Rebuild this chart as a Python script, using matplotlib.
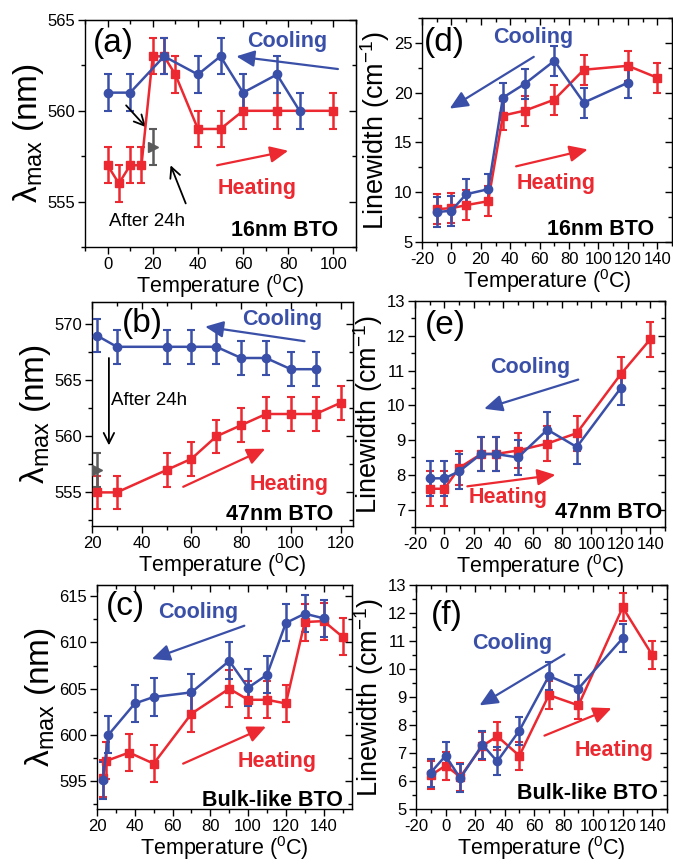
import matplotlib.pyplot as plt
from matplotlib.ticker import MultipleLocator

plt.rcParams['font.family'] = ['Liberation Sans', 'DejaVu Sans']
plt.rcParams['mathtext.fontset'] = 'custom'
plt.rcParams['mathtext.rm'] = 'Liberation Sans'
plt.rcParams['mathtext.it'] = 'Liberation Sans:italic'
plt.rcParams['mathtext.bf'] = 'Liberation Sans:bold'
plt.rcParams['axes.unicode_minus'] = False

BLUE = '#3a50a8'
RED = '#ec2830'
GRAY = '#5a5a5a'

# --- (a) 16nm BTO : lambda max ---
a_heat_T = [0, 5, 10, 15, 20, 25, 30, 40, 50, 60, 75, 100]
a_heat_y = [557, 556, 557, 557, 563, 563, 562, 559, 559, 560, 560, 560]
a_cool_T = [0, 10, 25, 40, 50, 60, 75, 85]
a_cool_y = [561, 561, 563, 562, 563, 561, 562, 560]
a_24h_T = [20]
a_24h_y = [558]
a_err = 1.0

# --- (b) 47nm BTO : lambda max ---
b_heat_T = [22, 30, 50, 60, 70, 80, 90, 100, 110, 120]
b_heat_y = [555, 555, 557, 558, 560, 561, 562, 562, 562, 563]
b_cool_T = [22, 30, 50, 60, 70, 80, 90, 100, 110]
b_cool_y = [569, 568, 568, 568, 568, 567, 567, 566, 566]
b_24h_T = [22]
b_24h_y = [557]
b_err = 1.5

# --- (c) Bulk-like BTO : lambda max ---
c_heat_T = [23, 25, 37, 50, 70, 90, 100, 110, 120, 130, 140, 150]
c_heat_y = [595.3, 597.2, 598.1, 596.9, 602.3, 605.0, 603.8, 603.8, 603.4, 612.2, 612.3, 610.6]
c_cool_T = [23, 26, 40, 50, 70, 90, 100, 110, 120, 130, 140]
c_cool_y = [595.1, 600.0, 603.4, 604.1, 604.6, 608.0, 605.1, 606.5, 612.1, 613.1, 612.6]
c_err = 2.0

# --- Linewidth panels (d, e, f) ---
lw_heat_T = [-10, 0, 10, 25, 35, 50, 70, 90, 120, 140]
lw_cool_T = [-10, 0, 10, 25, 35, 50, 70, 90, 120]

d_heat_y = [8.3, 8.4, 8.7, 9.1, 17.7, 18.2, 19.3, 22.3, 22.7, 21.5]
d_cool_y = [8.0, 8.15, 9.8, 10.3, 19.5, 20.9, 23.2, 19.0, 21.0]
d_err = 1.5

e_heat_y = [7.6, 7.6, 8.2, 8.6, 8.6, 8.7, 8.9, 9.2, 10.9, 11.9]
e_cool_y = [7.9, 7.9, 8.1, 8.6, 8.6, 8.5, 9.3, 8.8, 10.5]
e_err = 0.5

f_heat_y = [6.2, 6.55, 6.15, 7.25, 7.6, 6.9, 9.07, 8.7, 12.2, 10.5]
f_cool_y = [6.3, 6.9, 6.1, 7.3, 6.7, 7.8, 9.75, 9.3, 11.1]
f_err = 0.5

XLABEL = 'Temperature ($^0$C)'
LAM_LABEL = r'$\mathrm{λ}_{\mathrm{max}}$ (nm)'
LW_LABEL = r'Linewidth (cm$^{\mathrm{-1}}$)'

fig = plt.figure(figsize=(6.73, 8.63), dpi=100)
W, H = 673.0, 863.0


def make_ax(left, top, right, bottom):
    return fig.add_axes([left / W, 1 - bottom / H, (right - left) / W, (bottom - top) / H])


def style_ax(ax, xlim, ylim, xmaj, ymaj, ylabel, ylsize):
    ax.set_xlim(xlim)
    ax.set_ylim(ylim)
    for axis, step in ((ax.xaxis, xmaj), (ax.yaxis, ymaj)):
        axis.set_major_locator(MultipleLocator(step))
        axis.set_minor_locator(MultipleLocator(step / 2))
    ax.tick_params(which='both', direction='out', labelsize=12, width=1, pad=2)
    ax.tick_params(which='major', length=5)
    ax.tick_params(which='minor', length=3)
    # mirrored ticks pointing inward
    top = ax.secondary_xaxis('top')
    top.xaxis.set_major_locator(MultipleLocator(xmaj))
    top.xaxis.set_minor_locator(MultipleLocator(xmaj / 2))
    top.tick_params(which='both', direction='in', labeltop=False, width=1)
    top.tick_params(which='major', length=5)
    top.tick_params(which='minor', length=3)
    right = ax.secondary_yaxis('right')
    right.yaxis.set_major_locator(MultipleLocator(ymaj))
    right.yaxis.set_minor_locator(MultipleLocator(ymaj / 2))
    right.tick_params(which='both', direction='in', labelright=False, width=1)
    right.tick_params(which='major', length=5)
    right.tick_params(which='minor', length=3)
    for sp in ax.spines.values():
        sp.set_linewidth(1)
    ax.set_xlabel(XLABEL, fontsize=15.5, labelpad=0)
    ax.set_ylabel(ylabel, fontsize=ylsize, labelpad=1)


def series(ax, T, y, err, color, marker, ms):
    ax.errorbar(T, y, yerr=err, color=color, marker=marker, ms=ms, lw=1.8,
                elinewidth=1.8, capsize=3, capthick=1.5, zorder=3)


def arrow(ax, start, end, color):
    ax.annotate('', xy=end, xytext=start,
                arrowprops=dict(arrowstyle='-|>,head_length=0.55,head_width=0.25',
                                mutation_scale=20, color=color, lw=1.6,
                                shrinkA=0, shrinkB=0))


def black_arrow(ax, start, end):
    ax.annotate('', xy=end, xytext=start,
                arrowprops=dict(arrowstyle='->,head_length=0.5,head_width=0.25',
                                mutation_scale=15, color='black', lw=1.3,
                                shrinkA=0, shrinkB=0))


def labels(ax, tag, tag_xy, cool_xy, heat_xy, name, name_xy):
    ax.text(*tag_xy, tag, fontsize=24, ha='center', va='center')
    ax.text(*cool_xy, 'Cooling', color=BLUE, fontsize=15.5, fontweight='bold',
            ha='center', va='center')
    ax.text(*heat_xy, 'Heating', color=RED, fontsize=15.5, fontweight='bold',
            ha='center', va='center')
    ax.text(*name_xy, name, fontsize=15.5, fontweight='bold', ha='right', va='center')


# ================== (a) ==================
ax = make_ax(85, 20, 356, 247)
style_ax(ax, (-10, 110), (552.5, 565), 20, 5, LAM_LABEL, 24)
series(ax, a_heat_T, a_heat_y, a_err, RED, 's', 5.5)
series(ax, a_cool_T, a_cool_y, a_err, BLUE, 'o', 6)
ax.errorbar(a_24h_T, a_24h_y, yerr=a_err, color=GRAY, marker='>', ms=7, ls='none',
            elinewidth=1.8, capsize=3, capthick=1.5, zorder=3)
arrow(ax, (102, 562.3), (57, 563.0), BLUE)
arrow(ax, (48.5, 557.0), (80, 557.8), RED)
black_arrow(ax, (8.2, 560.3), (17, 559.1))
black_arrow(ax, (34.6, 554.9), (27.9, 557.0))
ax.text(17.5, 553.9, 'After 24h', fontsize=13.5, ha='center', va='center')
labels(ax, '(a)', (2.5, 563.7), (79.4, 563.8), (66, 555.7), '16nm BTO', (102, 553.4))

# ================== (d) ==================
ax = make_ax(422, 18, 672, 242)
style_ax(ax, (-20, 150), (5, 27.5), 20, 5, LW_LABEL, 19.5)
series(ax, lw_heat_T, d_heat_y, d_err, RED, 's', 5.5)
series(ax, lw_cool_T, d_cool_y, d_err, BLUE, 'o', 6)
arrow(ax, (56, 23.6), (-1.2, 18.4), BLUE)
arrow(ax, (44, 12.6), (92.7, 14.3), RED)
labels(ax, '(d)', (-4.6, 25.0), (55.8, 25.5), (71.2, 10.9), '16nm BTO', (138, 6.25))

# ================== (b) ==================
ax = make_ax(92, 302, 353, 526)
style_ax(ax, (20, 125), (552, 572), 20, 5, LAM_LABEL, 24)
series(ax, b_heat_T, b_heat_y, b_err, RED, 's', 5.5)
series(ax, b_cool_T, b_cool_y, b_err, BLUE, 'o', 6)
ax.errorbar(b_24h_T, b_24h_y, yerr=b_err, color=GRAY, marker='>', ms=7, ls='none',
            elinewidth=1.8, capsize=3, capthick=1.5, zorder=3)
arrow(ax, (105.5, 568.5), (65.5, 569.8), BLUE)
arrow(ax, (56.7, 555.5), (89.7, 558.9), RED)
black_arrow(ax, (26.8, 567.0), (26.8, 559.2))
ax.text(27.5, 563.2, 'After 24h', fontsize=13.5, ha='left', va='center')
labels(ax, '(b)', (40.4, 570.1), (96.4, 570.45), (99.2, 555.7), '47nm BTO', (117, 553.0))

# ================== (e) ==================
ax = make_ax(415, 301, 665, 527)
style_ax(ax, (-20, 150), (6.5, 13), 20, 1, LW_LABEL, 19.5)
series(ax, lw_heat_T, e_heat_y, e_err, RED, 's', 5.5)
series(ax, lw_cool_T, e_cool_y, e_err, BLUE, 'o', 6)
arrow(ax, (91, 10.74), (27, 9.9), BLUE)
arrow(ax, (15.6, 7.67), (75.5, 8.0), RED)
labels(ax, '(e)', (0.4, 12.3), (58.2, 11.08), (43.5, 7.34), '47nm BTO', (148, 6.93))

# ================== (c) ==================
ax = make_ax(97, 585, 352, 809)
style_ax(ax, (20, 155), (592, 616.2), 20, 5, LAM_LABEL, 24)
series(ax, c_heat_T, c_heat_y, c_err, RED, 's', 5.5)
series(ax, c_cool_T, c_cool_y, c_err, BLUE, 'o', 6)
arrow(ax, (98, 611.8), (49, 608.2), BLUE)
arrow(ax, (65.6, 596.9), (109.5, 600.9), RED)
labels(ax, '(c)', (35, 613.9), (73.5, 613.2), (115.6, 597.1), 'Bulk-like BTO', (150, 592.9))

# ================== (f) ==================
ax = make_ax(416, 585, 667, 809)
style_ax(ax, (-20, 150), (5, 13), 20, 1, LW_LABEL, 19.5)
series(ax, lw_heat_T, f_heat_y, f_err, RED, 's', 5.5)
series(ax, lw_cool_T, f_cool_y, f_err, BLUE, 'o', 6)
arrow(ax, (80.5, 10.52), (23, 8.7), BLUE)
arrow(ax, (67, 7.62), (112.4, 8.6), RED)
labels(ax, '(f)', (0.8, 11.9), (45, 10.9), (114, 7.1), 'Bulk-like BTO', (144, 5.55))

fig.savefig('out.png', dpi=100)
